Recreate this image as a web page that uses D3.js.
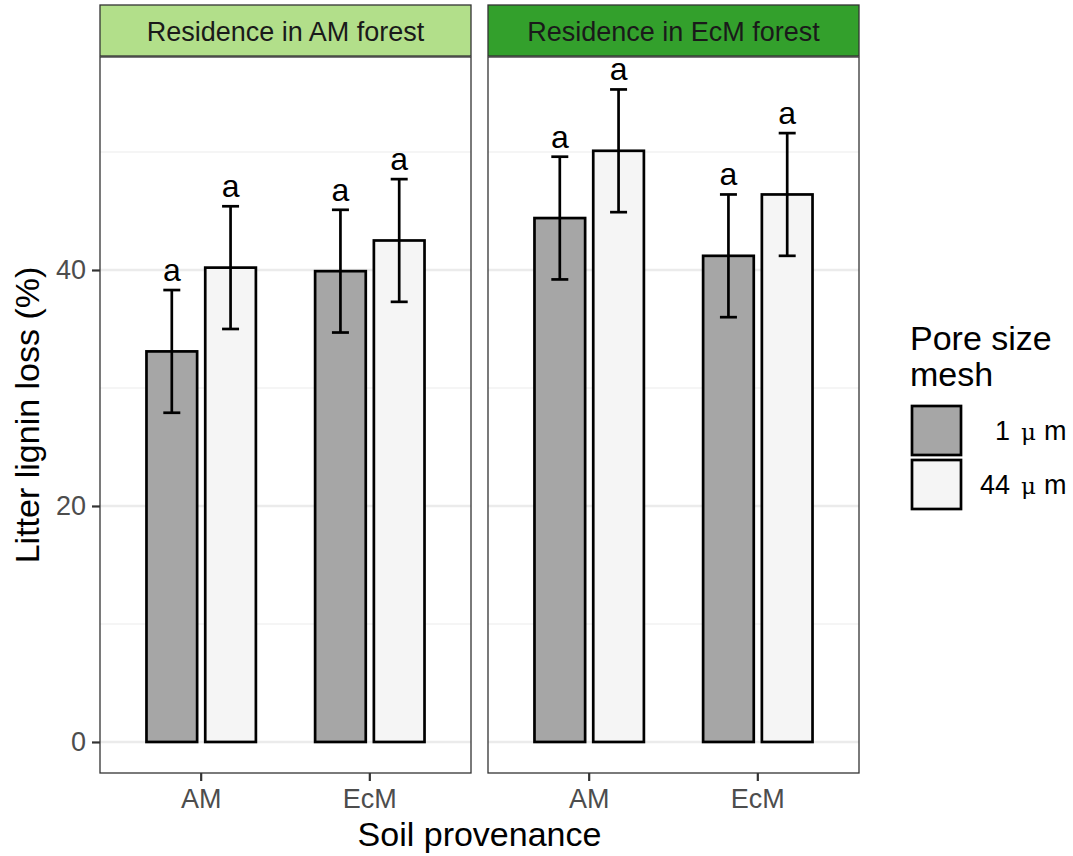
<!DOCTYPE html>
<html>
<head>
<meta charset="utf-8">
<script src="https://cdn.jsdelivr.net/npm/d3@7"></script>
<style>
  body { margin: 0; background: #fff; }
  text { font-family: "Liberation Sans", Arial, sans-serif; }
</style>
</head>
<body>
<svg id="chart" width="1073" height="856"></svg>
<script>
// data
const forests = ['Residence in AM forest', 'Residence in EcM forest'];
const stripColors = ['#b2df8a', '#33a02c'];
const soils = ['AM', 'EcM'];
const meshes = ['1', '44'];
const meshColors = ['#a6a6a6', '#f5f5f5'];
// mean lignin loss, order: soil -> mesh
const meanAM = [33.1, 40.2, 39.9, 42.5];
const meanEcM = [44.4, 50.1, 41.2, 46.4];
const seAM = [5.2, 5.2, 5.2, 5.2];
const seEcM = [5.2, 5.2, 5.2, 5.2];
const letters = ['a', 'a', 'a', 'a'];
const yTicks = [0, 20, 40];
const yMinor = [10, 30, 50];

const svg = d3.select('#chart');

const plotTop = 57, plotBottom = 773;
const panelX = [[100, 471], [488, 859]];
const smallFont = 27, bigFont = 34;

const y = d3.scaleLinear().domain([-2.63, 58.05]).range([plotBottom, plotTop]);

const rows = [];
[meanAM, meanEcM].forEach((means, fi) => {
  const ses = fi === 0 ? seAM : seEcM;
  soils.forEach((s, si) => {
    meshes.forEach((m, mi) => {
      const k = si * 2 + mi;
      rows.push({ forest: fi, soil: s, mesh: m, mean: means[k], se: ses[k], label: letters[k] });
    });
  });
});

panelX.forEach((px, fi) => {
  const x = d3.scaleBand().domain(soils).range(px).paddingInner(0).paddingOuter(0.1);
  const xm = d3.scaleBand().domain(meshes).range([0, x.bandwidth()]).paddingInner(0.138).paddingOuter(0.504);
  const g = svg.append('g');

  // grid
  g.selectAll('.minor').data(yMinor).enter().append('line')
    .attr('x1', px[0]).attr('x2', px[1])
    .attr('y1', d => y(d)).attr('y2', d => y(d))
    .attr('stroke', '#ebebeb').attr('stroke-width', 1.1);
  g.selectAll('.major').data(yTicks).enter().append('line')
    .attr('x1', px[0]).attr('x2', px[1])
    .attr('y1', d => y(d)).attr('y2', d => y(d))
    .attr('stroke', '#ebebeb').attr('stroke-width', 2.4);

  const data = rows.filter(r => r.forest === fi);

  g.selectAll('rect.bar').data(data).enter().append('rect')
    .attr('x', d => x(d.soil) + xm(d.mesh))
    .attr('width', xm.bandwidth())
    .attr('y', d => y(d.mean))
    .attr('height', d => y(0) - y(d.mean))
    .attr('fill', d => meshColors[meshes.indexOf(d.mesh)])
    .attr('stroke', '#000').attr('stroke-width', 2.7);

  const eb = g.selectAll('g.err').data(data).enter().append('g')
    .attr('transform', d => `translate(${x(d.soil) + xm(d.mesh) + xm.bandwidth() / 2},0)`);
  eb.append('line')
    .attr('y1', d => y(d.mean + d.se)).attr('y2', d => y(d.mean - d.se))
    .attr('stroke', '#000').attr('stroke-width', 2.7);
  eb.selectAll('line.cap').data(d => [d.mean + d.se, d.mean - d.se]).enter().append('line')
    .attr('x1', -8.5).attr('x2', 8.5)
    .attr('y1', v => y(v)).attr('y2', v => y(v))
    .attr('stroke', '#000').attr('stroke-width', 2.7);
  eb.append('text')
    .attr('y', d => y(d.mean + d.se) - 9)
    .attr('text-anchor', 'middle')
    .attr('font-size', 32)
    .attr('fill', '#000')
    .text(d => d.label);

  // panel border
  g.append('rect')
    .attr('x', px[0]).attr('y', plotTop)
    .attr('width', px[1] - px[0]).attr('height', plotBottom - plotTop)
    .attr('fill', 'none').attr('stroke', '#333').attr('stroke-width', 1.3);

  // strip
  g.append('rect')
    .attr('x', px[0]).attr('y', 5)
    .attr('width', px[1] - px[0]).attr('height', 51)
    .attr('fill', stripColors[fi]).attr('stroke', '#333').attr('stroke-width', 1.3);
  g.append('text')
    .attr('x', (px[0] + px[1]) / 2).attr('y', 40.5)
    .attr('text-anchor', 'middle').attr('font-size', smallFont).attr('fill', '#1a1a1a')
    .text(forests[fi]);

  // x axis
  const xa = g.append('g').attr('transform', `translate(0,${plotBottom})`)
    .call(d3.axisBottom(x).tickSize(8).tickPadding(8));
  xa.select('.domain').remove();
  xa.selectAll('line').attr('stroke', '#333').attr('stroke-width', 2.2);
  xa.selectAll('text').attr('font-size', smallFont).attr('fill', '#4d4d4d')
    .attr('font-family', '"Liberation Sans", Arial, sans-serif');

  if (fi === 0) {
    const ya = g.append('g').attr('transform', `translate(${px[0]},0)`)
      .call(d3.axisLeft(y).tickValues(yTicks).tickSize(8).tickPadding(6));
    ya.select('.domain').remove();
    ya.selectAll('line').attr('stroke', '#333').attr('stroke-width', 2.2);
    ya.selectAll('text').attr('font-size', smallFont).attr('fill', '#4d4d4d')
      .attr('font-family', '"Liberation Sans", Arial, sans-serif');
  }
});

// axis titles
svg.append('text')
  .attr('x', 479.5).attr('y', 846)
  .attr('text-anchor', 'middle').attr('font-size', bigFont).attr('fill', '#000')
  .text('Soil provenance');
svg.append('text')
  .attr('transform', `translate(39,${(plotTop + plotBottom) / 2}) rotate(-90)`)
  .attr('text-anchor', 'middle').attr('font-size', bigFont).attr('fill', '#000')
  .text('Litter lignin loss (%)');

// legend
const lg = svg.append('g');
lg.append('text').attr('x', 910).attr('y', 350).attr('font-size', bigFont).text('Pore size');
lg.append('text').attr('x', 910).attr('y', 386).attr('font-size', bigFont).text('mesh');
const key = lg.selectAll('g.key').data(meshes).enter().append('g')
  .attr('transform', (d, i) => `translate(0,${406 + i * 54})`);
key.append('rect')
  .attr('x', 912).attr('y', 0).attr('width', 49).attr('height', 49)
  .attr('fill', (d, i) => meshColors[i]).attr('stroke', '#000').attr('stroke-width', 2.7);
key.append('text')
  .attr('x', 1010).attr('y', 34).attr('text-anchor', 'end')
  .attr('font-size', smallFont).text(d => d);
const unit = key.append('text').attr('x', 1021).attr('y', 34).attr('font-size', smallFont);
unit.append('tspan').attr('font-size', 23).attr('font-family', '"DejaVu Serif", serif').text('μ');
unit.append('tspan').attr('dx', 8).text('m');
</script>
</body>
</html>
